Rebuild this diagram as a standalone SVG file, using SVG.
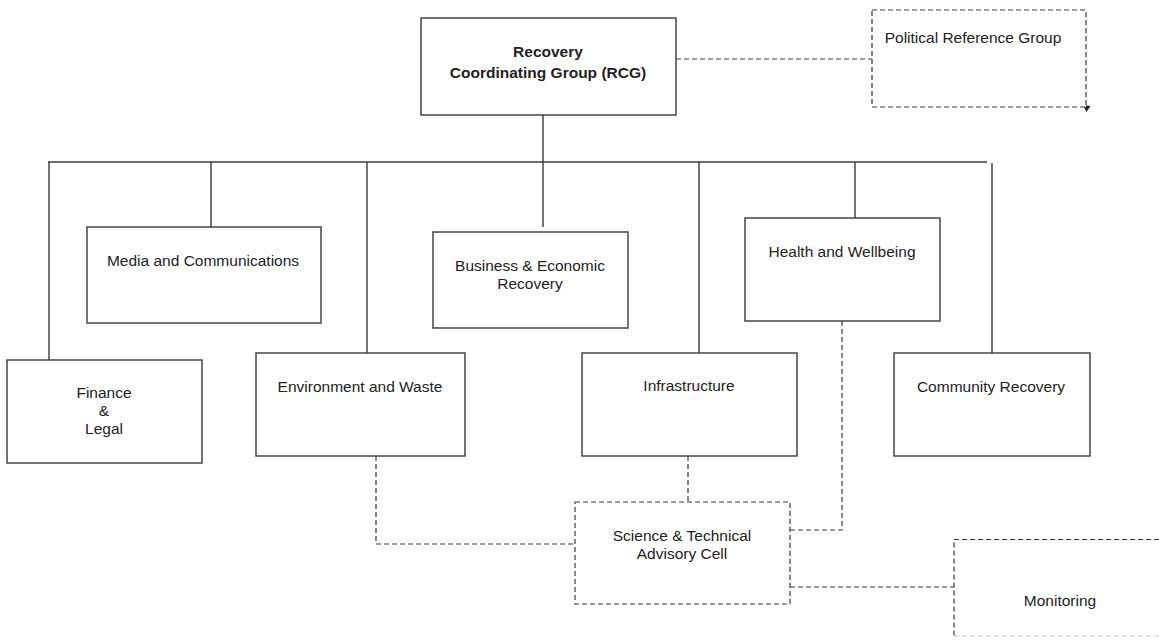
<svg xmlns="http://www.w3.org/2000/svg" width="1159" height="641" viewBox="0 0 1159 641">
<defs>
<style>
.box{fill:#fff;stroke:#3a3a3a;stroke-width:1.4}
.dbox{fill:#fff;stroke:#3a3a3a;stroke-width:1.2;stroke-dasharray:5 3}
.ln{fill:none;stroke:#3a3a3a;stroke-width:1.4}
.dl{fill:none;stroke:#3a3a3a;stroke-width:1.2;stroke-dasharray:5 3}
.ah{fill:#222;stroke:none}
text{font-family:"Liberation Sans",Arial,sans-serif;font-size:15.5px;fill:#222;text-anchor:middle}
.b{font-weight:bold}
</style>
</defs>
<rect width="1159" height="641" fill="#fff"/>
<g id="connectors">
<path class="ln" d="M543,115 V162"/>
<path class="ln" d="M48,162 H987"/>
<path class="ln" d="M49,162 V360"/>
<path class="ln" d="M211,162 V227"/>
<path class="ln" d="M367,162 V353"/>
<path class="ln" d="M543,162 V227"/>
<path class="ln" d="M699,162 V353"/>
<path class="ln" d="M855,162 V218"/>
<path class="ln" d="M992,163 V353"/>
<path class="dl" d="M676,59 H872"/>
<path class="dl" d="M376,456 V544 H575"/>
<path class="dl" d="M688,456 V502"/>
<path class="dl" d="M842,321 V530 H790"/>
<path class="dl" d="M790,587 H954"/>
<polygon class="ah" points="1083,105 1090.5,106 1086.5,112"/>
</g>
<g id="rcg">
<rect class="box" x="421" y="18" width="255" height="97"/>
<text class="b" x="548" y="57">Recovery</text>
<text class="b" x="548" y="78">Coordinating Group (RCG)</text>
</g>
<g id="political">
<rect class="dbox" x="872" y="10" width="214" height="97"/>
<text x="973" y="43">Political Reference Group</text>
</g>
<g id="media">
<rect class="box" x="87" y="227" width="234" height="96"/>
<text x="203" y="266">Media and Communications</text>
</g>
<g id="business">
<rect class="box" x="433" y="232" width="195" height="96"/>
<text x="530" y="271">Business &amp; Economic</text>
<text x="530" y="289">Recovery</text>
</g>
<g id="health">
<rect class="box" x="745" y="218" width="195" height="103"/>
<text x="842" y="257">Health and Wellbeing</text>
</g>
<g id="finance">
<rect class="box" x="7" y="360" width="195" height="103"/>
<text x="104" y="398">Finance</text>
<text x="104" y="416">&amp;</text>
<text x="104" y="434">Legal</text>
</g>
<g id="environment">
<rect class="box" x="256" y="353" width="209" height="103"/>
<text x="360" y="392">Environment and Waste</text>
</g>
<g id="infrastructure">
<rect class="box" x="582" y="353" width="215" height="103"/>
<text x="689" y="391">Infrastructure</text>
</g>
<g id="community">
<rect class="box" x="894" y="353" width="196" height="103"/>
<text x="991" y="392">Community Recovery</text>
</g>
<g id="science">
<rect class="dbox" x="575" y="502" width="215" height="102"/>
<text x="682" y="541">Science &amp; Technical</text>
<text x="682" y="559">Advisory Cell</text>
</g>
<g id="monitoring">
<path class="dl" d="M1159,539.5 H954 V636"/>
<path class="dl" d="M954,636 H1159" style="stroke:#c8c8c8"/>
<text x="1060" y="606">Monitoring</text>
</g>
</svg>
